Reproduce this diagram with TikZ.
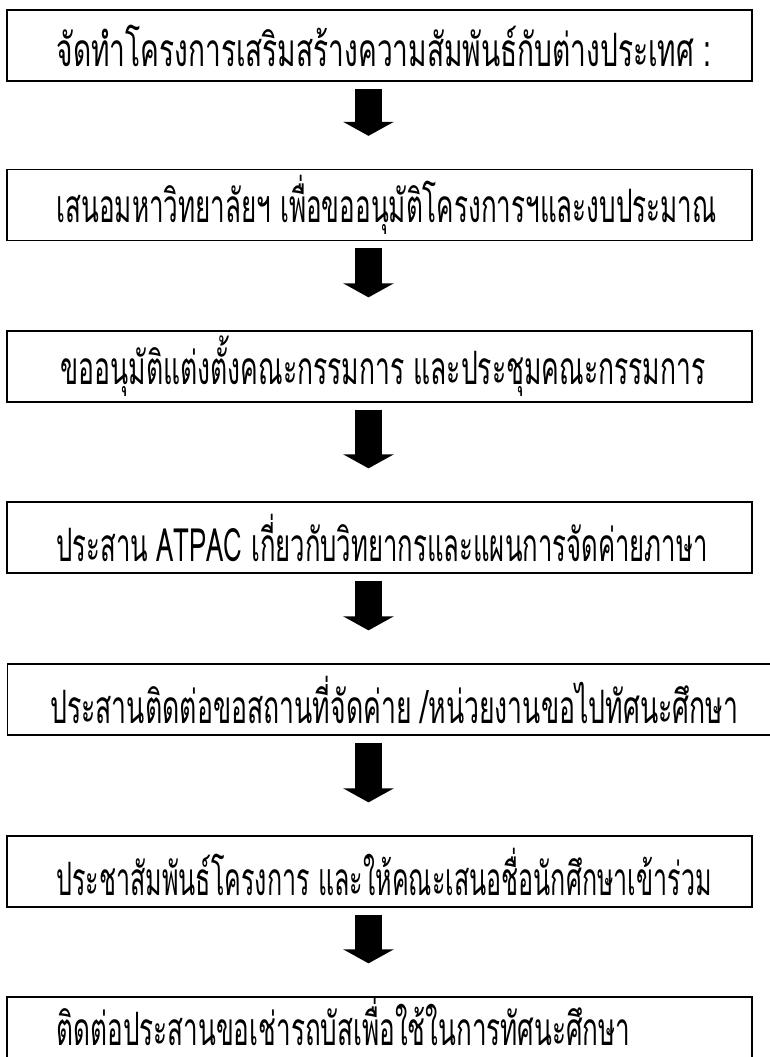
\documentclass[tikz,border=0pt]{standalone}
\usepackage{fontspec}
\usepackage{graphicx}
\newfontfamily\thaifont[Script=Thai,FakeStretch=0.62]{Loma}
\usetikzlibrary{positioning,arrows.meta}
\newcommand{\fitto}[2]{\resizebox{#1}{\height}{#2}}
\tikzset{
  stepbox/.style={draw, line width=1.3pt, minimum width=745pt, minimum height=71pt, inner sep=0pt},
  steptext/.style={font=\thaifont\fontsize{46}{50}\selectfont, inner sep=0pt},
  bigarrow/.style={line width=27pt, -{Triangle[width=50pt,length=14pt]}, shorten <=7pt, shorten >=33pt}
}
\begin{document}
\begin{tikzpicture}[x=1pt,y=-1pt]
\useasboundingbox (0,0) rectangle (770,1057);
\clip (0,0) rectangle (770,1057);
% boxes
\node[stepbox] (b1) at (379.5,45.5) {};
\node[stepbox] (b2) at (379.5,205) {};
\node[stepbox] (b3) at (379.5,366.5) {};
\node[stepbox] (b4) at (379.5,537.5) {};
\node[stepbox, minimum width=800pt, anchor=west] (b5) at (7,699.5) {};
\node[stepbox] (b6) at (379.5,871.5) {};
\node[stepbox] (b7) at (379.5,1032.5) {};
% texts
\node[steptext, right=50pt of b1.west] (t1) {\fitto{655pt}{จัดทำโครงการเสริมสร้างความสัมพันธ์กับต่างประเทศ :}};
\node[steptext, right=50pt of b2.west] (t2) {\fitto{660pt}{เสนอมหาวิทยาลัยฯ เพื่อขออนุมัติโครงการฯและงบประมาณ}};
\node[steptext, right=54pt of b3.west] (t3) {\fitto{645pt}{ขออนุมัติแต่งตั้งคณะกรรมการ และประชุมคณะกรรมการ}};
\node[steptext, right=50pt of b4.west] (t4) {\fitto{651pt}{ประสาน ATPAC เกี่ยวกับวิทยากรและแผนการจัดค่ายภาษา}};
\node[steptext, right=43pt of b5.west] (t5) {\fitto{688pt}{ประสานติดต่อขอสถานที่จัดค่าย /หน่วยงานขอไปทัศนะศึกษา}};
\node[steptext, right=50pt of b6.west] (t6) {\fitto{655pt}{ประชาสัมพันธ์โครงการ และให้คณะเสนอชื่อนักศึกษาเข้าร่วม}};
\node[steptext, right=50pt of b7.west, yshift=11pt] (t7) {\fitto{574pt}{ติดต่อประสานขอเช่ารถบัสเพื่อใช้ในการทัศนะศึกษา}};
% arrows
\draw[bigarrow] ([xshift=-11pt]b1.south) -- ([xshift=-11pt]b2.north);
\draw[bigarrow] ([xshift=-11pt]b2.south) -- ([xshift=-11pt]b3.north);
\draw[bigarrow] ([xshift=-11pt]b3.south) -- ([xshift=-11pt]b4.north);
\draw[bigarrow] ([xshift=-11pt]b4.south) -- ([xshift=-11pt]b5.north -| b4.south);
\draw[bigarrow] ([xshift=-11pt]b5.south -| b4.south) -- ([xshift=-11pt]b6.north);
\draw[bigarrow] ([xshift=-11pt]b6.south) -- ([xshift=-11pt]b7.north);
\end{tikzpicture}
\end{document}
